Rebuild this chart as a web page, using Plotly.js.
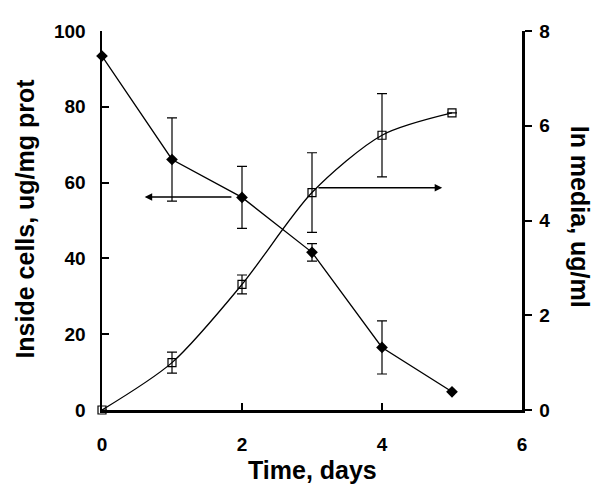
<!DOCTYPE html>
<html>
<head>
<meta charset="utf-8">
<script src="https://cdn.plot.ly/plotly-3.0.1.min.js"></script>
<style>html,body{margin:0;padding:0;background:#fff;}#chart{width:600px;height:497px;}</style>
</head>
<body>
<div id="chart"></div>
<script>
// Data
var days = [0, 1, 2, 3, 4, 5];
var insideCells = [93.4, 66.1, 56.1, 41.6, 16.5, 4.8];
var insideCellsErr = [0, 11, 8.2, 2.3, 7, 0];
var inMedia = [0, 1.0, 2.65, 4.59, 5.80, 6.27];
var inMediaErr = [0, 0.22, 0.2, 0.84, 0.88, 0];
var xTicks = [0, 2, 4, 6];
var leftTicks = [0, 20, 40, 60, 80, 100];
var rightTicks = [0, 2, 4, 6, 8];
var xTitle = "Time, days";
var leftTitle = "Inside cells, ug/mg prot";
var rightTitle = "In media, ug/ml";

var font = "Liberation Sans, Arial, sans-serif";

var traces = [
  {
    x: days, y: insideCells, type: "scatter", mode: "lines+markers",
    line: {color: "#000", width: 1.3},
    marker: {symbol: "diamond", size: 9, color: "#000"},
    error_y: {type: "data", array: insideCellsErr, visible: true, color: "#000", thickness: 1.2, width: 5},
    cliponaxis: false, yaxis: "y", showlegend: false
  },
  {
    x: days, y: inMedia, type: "scatter", mode: "lines+markers",
    line: {color: "#000", width: 1.3, shape: "spline", smoothing: 0.8},
    marker: {symbol: "square-open", size: 8, color: "#000", line: {width: 1.2}},
    error_y: {type: "data", array: inMediaErr, visible: true, color: "#000", thickness: 1.2, width: 5},
    cliponaxis: false, yaxis: "y2", showlegend: false
  }
];

var tickFont = {family: font, size: 19, color: "#000", weight: "bold"};
var titleFont = {family: font, size: 25, color: "#000", weight: "bold"};

var layout = {
  width: 600, height: 497,
  margin: {l: 102, r: 78, t: 31, b: 87},
  paper_bgcolor: "#fff", plot_bgcolor: "#fff",
  xaxis: {
    range: [0, 6], tickvals: xTicks, ticktext: xTicks.map(String),
    ticks: "inside", ticklen: 7, tickwidth: 2, tickcolor: "#000",
    showline: true, linewidth: 2.5, linecolor: "#000",
    showgrid: false, zeroline: false, tickfont: tickFont, ticklabelstandoff: 16
  },
  yaxis: {
    range: [0, 100], tickvals: leftTicks, ticktext: leftTicks.map(String),
    ticks: "inside", ticklen: 7, tickwidth: 2, tickcolor: "#000",
    showline: true, linewidth: 2.5, linecolor: "#000",
    showgrid: false, zeroline: false, tickfont: tickFont, ticklabelstandoff: 10
  },
  yaxis2: {
    range: [0, 8], overlaying: "y", side: "right",
    tickvals: rightTicks, ticktext: rightTicks.map(String),
    ticks: "outside", ticklen: 7, tickwidth: 2, tickcolor: "#000",
    showline: true, linewidth: 2.5, linecolor: "#000",
    showgrid: false, zeroline: false, tickfont: tickFont, ticklabelstandoff: 4
  },
  annotations: [
    {xref: "paper", yref: "paper", x: 0.5, y: 0, yshift: -60, text: xTitle, showarrow: false, font: titleFont, xanchor: "center", yanchor: "middle"},
    {xref: "paper", yref: "paper", x: 0, y: 0.505, xshift: -77, text: leftTitle, textangle: -90, showarrow: false, font: titleFont, xanchor: "center", yanchor: "middle"},
    {xref: "paper", yref: "paper", x: 1, y: 0.51, xshift: 58, text: rightTitle, textangle: 90, showarrow: false, font: titleFont, xanchor: "center", yanchor: "middle"},
    {xref: "x", yref: "y", axref: "x", ayref: "y", x: 0.61, y: 56.2, ax: 1.87, ay: 56.2, text: "", showarrow: true, arrowhead: 2, arrowsize: 1, arrowwidth: 1.5, arrowcolor: "#000"},
    {xref: "x", yref: "y2", axref: "x", ayref: "y2", x: 4.86, y: 4.69, ax: 3.07, ay: 4.69, text: "", showarrow: true, arrowhead: 2, arrowsize: 1, arrowwidth: 1.5, arrowcolor: "#000"}
  ]
};

Plotly.newPlot("chart", traces, layout, {displayModeBar: false, staticPlot: true});
</script>
</body>
</html>
